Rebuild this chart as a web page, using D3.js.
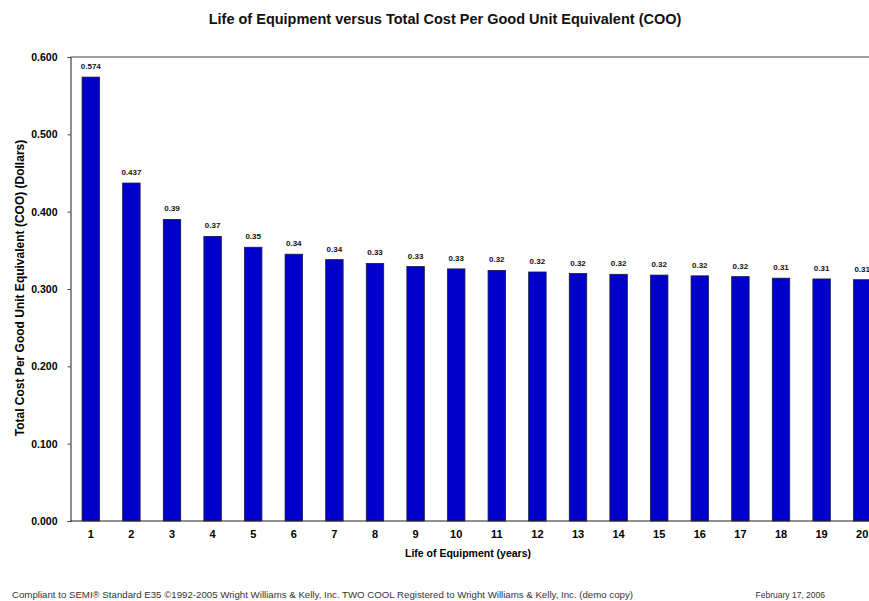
<!DOCTYPE html>
<html>
<head>
<meta charset="utf-8">
<script src="https://cdn.jsdelivr.net/npm/d3@7"></script>
<style>
  body { margin: 0; background: #fff; }
  svg { display: block; font-family: "Liberation Sans", Arial, sans-serif; }
</style>
</head>
<body>
<svg id="chart" width="869" height="601"></svg>
<script>
// Life of equipment (years) and total cost per good unit equivalent (dollars)
const years = ["1","2","3","4","5","6","7","8","9","10","11","12","13","14","15","16","17","18","19","20"];
const cost = [0.574,0.437,0.390,0.368,0.354,0.345,0.338,0.333,0.329,0.326,0.324,0.322,0.320,0.319,0.318,0.317,0.316,0.314,0.313,0.312];
// Decimal places shown in each bar's label
const labelDigits = [3,3,2,2,2,2,2,2,2,2,2,2,2,2,2,2,2,2,2,2];
const yTicks = [0.0,0.1,0.2,0.3,0.4,0.5,0.6];

const svg = d3.select("#chart");
const plotLeft = 70.5, plotTop = 57, plotBottom = 521, plotRight = 882.5;

const x = d3.scaleBand().domain(years).range([plotLeft, plotRight]).paddingInner(0.57).paddingOuter(0.285);
const y = d3.scaleLinear().domain([0, 0.6]).range([plotBottom, plotTop]);

// Title
svg.append("text").attr("x", 445).attr("y", 24).attr("text-anchor", "middle")
  .attr("font-size", 14.5).attr("font-weight", "bold").attr("fill", "#111")
  .text("Life of Equipment versus Total Cost Per Good Unit Equivalent (COO)");

// Plot frame top edge
svg.append("line").attr("x1", plotLeft).attr("x2", 869).attr("y1", plotTop).attr("y2", plotTop)
  .attr("stroke", "#808080").attr("stroke-width", 1.5);

// Bars
svg.append("g").selectAll("rect").data(cost).join("rect")
  .attr("x", (d, i) => x(years[i]))
  .attr("y", d => y(d))
  .attr("width", x.bandwidth())
  .attr("height", d => plotBottom - y(d))
  .attr("fill", "#0000CC")
  .attr("stroke", "#1a1a40")
  .attr("stroke-width", 0.8);

// Value labels
svg.append("g").selectAll("text").data(cost).join("text")
  .attr("x", (d, i) => x(years[i]) + x.bandwidth() / 2)
  .attr("y", d => y(d) - 8)
  .attr("text-anchor", "middle")
  .attr("font-size", 8).attr("font-weight", "bold").attr("fill", "#111")
  .text((d, i) => d3.format("." + labelDigits[i] + "f")(d));

// Y axis
const yAxis = svg.append("g").attr("transform", `translate(${plotLeft},0)`)
  .call(d3.axisLeft(y).tickValues(yTicks).tickFormat(d3.format(".3f")).tickSize(3).tickPadding(10));
yAxis.select(".domain").attr("stroke", "#444").attr("stroke-width", 1.2);
yAxis.selectAll(".tick line").attr("stroke", "#444");
yAxis.selectAll("text").attr("font-size", 10.5).attr("font-weight", "bold").attr("fill", "#000")
  .attr("font-family", "Liberation Sans, Arial, sans-serif");

// X axis
const xAxis = svg.append("g").attr("transform", `translate(0,${plotBottom})`)
  .call(d3.axisBottom(x).tickSize(0).tickPadding(9));
xAxis.select(".domain").attr("stroke", "#222").attr("stroke-width", 1.2)
  .attr("d", `M${plotLeft},0H${plotRight}`);
xAxis.selectAll("text").attr("font-size", 11).attr("font-weight", "bold").attr("fill", "#000")
  .attr("font-family", "Liberation Sans, Arial, sans-serif");

// Axis titles
svg.append("text").attr("x", 468).attr("y", 557).attr("text-anchor", "middle")
  .attr("font-size", 10.5).attr("font-weight", "bold").text("Life of Equipment (years)");
svg.append("text").attr("transform", "translate(24,288) rotate(-90)").attr("text-anchor", "middle")
  .attr("font-size", 12).attr("font-weight", "bold").text("Total Cost Per Good Unit Equivalent (COO) (Dollars)");

// Footer
svg.append("text").attr("x", 12).attr("y", 598).attr("font-size", 9.5).attr("fill", "#333")
  .attr("textLength", 621).attr("lengthAdjust", "spacingAndGlyphs")
  .text("Compliant to SEMI® Standard E35 ©1992-2005 Wright Williams & Kelly, Inc. TWO COOL Registered to Wright Williams & Kelly, Inc. (demo copy)");
svg.append("text").attr("x", 825).attr("y", 598).attr("text-anchor", "end").attr("font-size", 8.5).attr("fill", "#333")
  .text("February 17, 2006");
</script>
</body>
</html>
